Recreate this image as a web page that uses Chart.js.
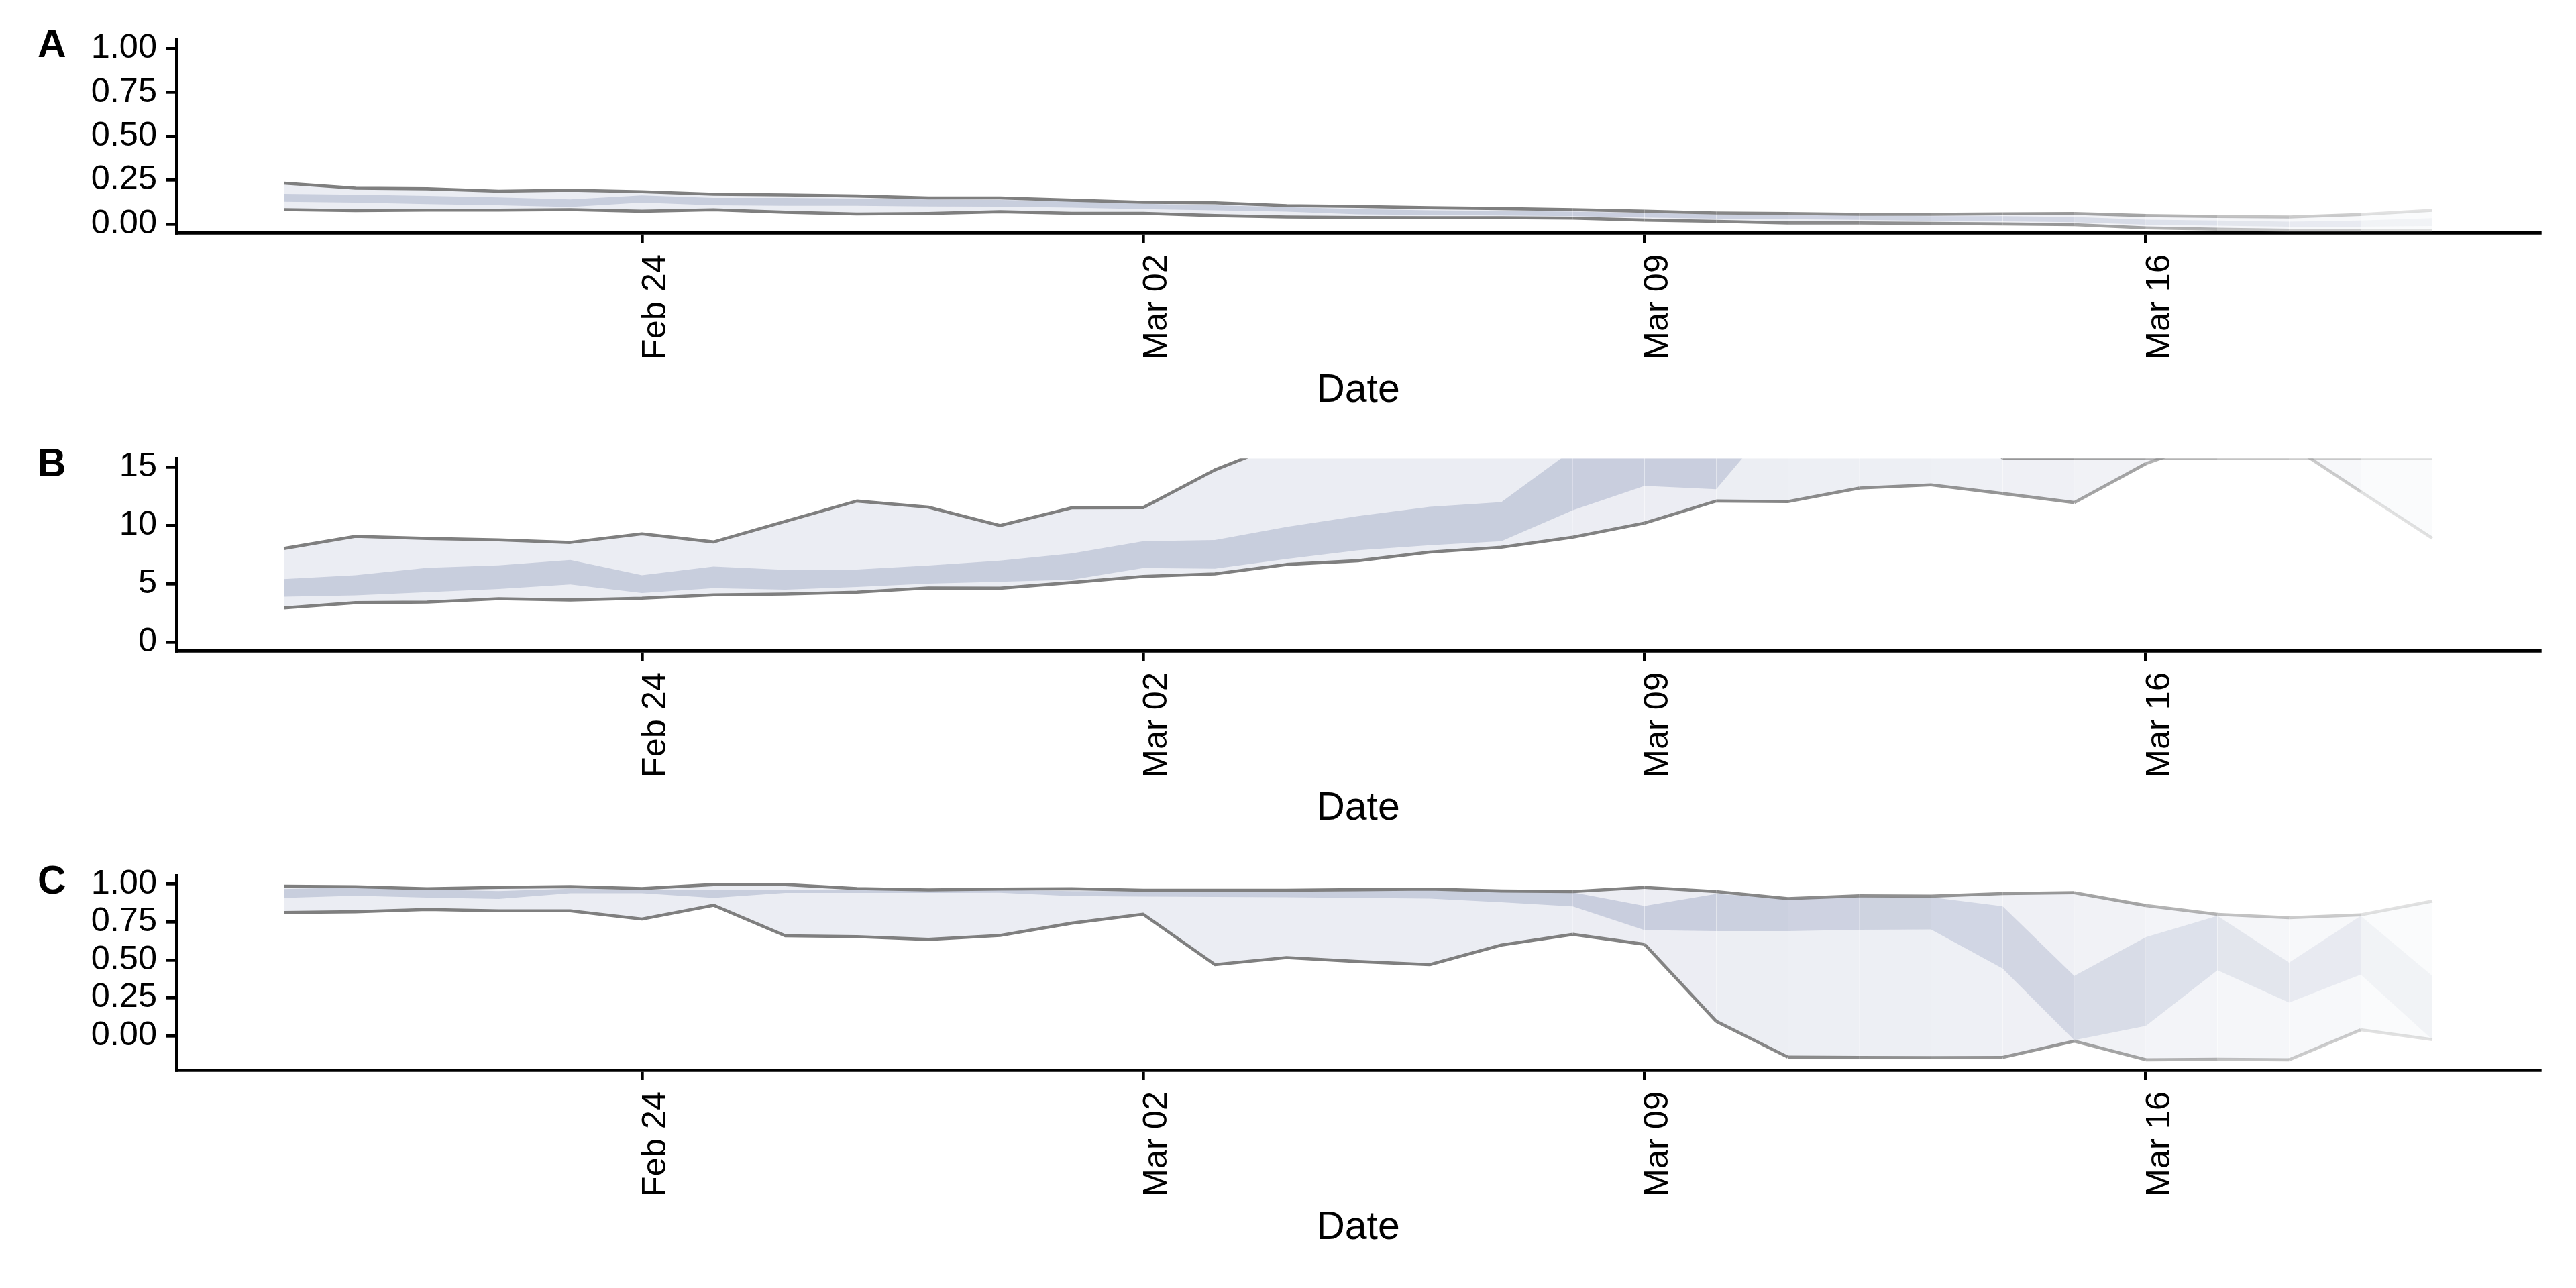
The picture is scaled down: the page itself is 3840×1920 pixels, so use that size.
<!DOCTYPE html>
<html>
<head>
<meta charset="utf-8">
<title>Estimates by date</title>
<script src="https://cdn.jsdelivr.net/npm/chart.js@4.4.1/dist/chart.umd.min.js"></script>
<style>
  html, body { margin: 0; padding: 0; background: #fff; }
  body { position: relative; width: 3840px; height: 1920px; overflow: hidden; font-family: "Liberation Sans", Arial, sans-serif; }
  .panel { position: absolute; left: 0; width: 3840px; }
  .panel canvas { display: block; }
  .tag { position: absolute; left: 56px; font-weight: bold; font-size: 59px; line-height: 59px; color: #000; }
</style>
</head>
<body>
<div class="panel" style="top:15px;height:603px"><canvas id="chartA" width="3840" height="603"></canvas></div>
<div class="panel" style="top:639px;height:602px"><canvas id="chartB" width="3840" height="602"></canvas></div>
<div class="panel" style="top:1261px;height:605px"><canvas id="chartC" width="3840" height="605"></canvas></div>
<div class="tag" style="top:36px">A</div>
<div class="tag" style="top:661px">B</div>
<div class="tag" style="top:1283px">C</div>
<script>
// Three stacked ribbon panels (A, B, C): 95% band with edge lines, 50% band inside
(function () {
    'use strict';

    // day index from Feb 19 (0) to Mar 20 (30)
    var days = [0, 1, 2, 3, 4, 5, 6, 7, 8, 9, 10, 11, 12, 13, 14, 15, 16, 17, 18, 19, 20, 21, 22, 23, 24, 25, 26, 27, 28, 29, 30];
    var tickDays = [5, 12, 19, 26];
    var tickLabels = ['Feb 24', 'Mar 02', 'Mar 09', 'Mar 16'];

    // opacity per day (recent days fade out)
    var fade = [1, 1, 1, 1, 1, 1, 1, 1, 1, 1, 1, 1, 1, 1, 1, 1, 1, 1, 0.98, 0.96, 0.94, 0.9, 0.87, 0.83, 0.8, 0.7, 0.59, 0.47, 0.4, 0.23, 0.2];

    // ── Panel A ──
    var aLower95 = [0.082, 0.076, 0.079, 0.079, 0.082, 0.073, 0.081, 0.067, 0.057, 0.060, 0.070, 0.061, 0.061, 0.048, 0.040, 0.037, 0.036, 0.036, 0.033, 0.022, 0.015, 0.006, 0.006, 0.003, 0.000, -0.004, -0.022, -0.030, -0.036, -0.036, -0.036];
    var aUpper95 = [0.233, 0.204, 0.201, 0.187, 0.193, 0.184, 0.170, 0.166, 0.160, 0.149, 0.149, 0.136, 0.124, 0.121, 0.105, 0.100, 0.093, 0.088, 0.082, 0.073, 0.063, 0.060, 0.055, 0.055, 0.058, 0.060, 0.048, 0.043, 0.040, 0.054, 0.078];
    var aLower50 = [0.127, 0.122, 0.113, 0.107, 0.097, 0.122, 0.107, 0.104, 0.104, 0.100, 0.099, 0.093, 0.085, 0.078, 0.070, 0.055, 0.051, 0.048, 0.045, 0.037, 0.030, 0.027, 0.024, 0.018, 0.015, 0.010, -0.004, -0.010, -0.016, -0.016, -0.012];
    var aUpper50 = [0.172, 0.167, 0.160, 0.152, 0.140, 0.163, 0.149, 0.149, 0.145, 0.140, 0.137, 0.130, 0.115, 0.107, 0.096, 0.085, 0.078, 0.074, 0.070, 0.063, 0.055, 0.051, 0.048, 0.045, 0.045, 0.040, 0.025, 0.020, 0.013, 0.020, 0.033];
    var aTicks = [0, 0.25, 0.5, 0.75, 1];

    // ── Panel B ──
    var bLower95 = [2.92, 3.37, 3.42, 3.71, 3.60, 3.75, 4.04, 4.11, 4.27, 4.63, 4.61, 5.10, 5.62, 5.84, 6.65, 6.97, 7.71, 8.13, 8.99, 10.20, 12.09, 12.04, 13.21, 13.48, 12.74, 11.96, 15.30, 17.5, 16.95, 12.9, 8.9];
    var bUpper95 = [8.02, 9.06, 8.88, 8.76, 8.54, 9.28, 8.58, 10.34, 12.09, 11.57, 9.98, 11.51, 11.53, 14.76, 17.2, 19, 21, 23, 25, 27, 28, 27, 25, 22, 15.78, 15.78, 15.78, 15.78, 15.78, 15.78, 15.78];
    var bLower50 = [3.89, 4.00, 4.27, 4.54, 4.94, 4.20, 4.61, 4.49, 4.72, 5.01, 5.17, 5.33, 6.34, 6.29, 7.12, 7.87, 8.30, 8.65, 11.3, 13.4, 13.1, 20.4, 21, 21, 20, 20, 21, 21, 21, 20, 19];
    var bUpper50 = [5.39, 5.73, 6.36, 6.58, 7.03, 5.73, 6.47, 6.18, 6.22, 6.56, 6.97, 7.60, 8.65, 8.74, 9.87, 10.8, 11.6, 12.0, 16.5, 19, 21, 23, 24, 25, 25, 24, 24, 25, 25, 24, 22];
    var bTicks = [0, 5, 10, 15];

    // ── Panel C ──
    var cLower95 = [0.812, 0.817, 0.832, 0.823, 0.823, 0.769, 0.860, 0.659, 0.653, 0.635, 0.661, 0.742, 0.801, 0.469, 0.515, 0.489, 0.469, 0.598, 0.668, 0.603, 0.096, -0.140, -0.142, -0.143, -0.142, -0.035, -0.158, -0.155, -0.158, 0.040, -0.025];
    var cUpper95 = [0.985, 0.982, 0.969, 0.978, 0.983, 0.970, 0.996, 0.996, 0.970, 0.961, 0.967, 0.969, 0.959, 0.959, 0.959, 0.963, 0.967, 0.954, 0.950, 0.978, 0.950, 0.904, 0.922, 0.920, 0.937, 0.943, 0.858, 0.800, 0.778, 0.797, 0.887];
    var cLower50 = [0.908, 0.923, 0.911, 0.902, 0.939, 0.939, 0.908, 0.941, 0.941, 0.941, 0.943, 0.921, 0.917, 0.915, 0.913, 0.908, 0.904, 0.880, 0.852, 0.696, 0.690, 0.690, 0.698, 0.701, 0.443, -0.028, 0.066, 0.432, 0.219, 0.404, -0.025];
    var cUpper50 = [0.967, 0.978, 0.963, 0.954, 0.969, 0.963, 0.959, 0.963, 0.963, 0.959, 0.961, 0.954, 0.954, 0.952, 0.952, 0.955, 0.960, 0.950, 0.945, 0.855, 0.935, 0.904, 0.915, 0.913, 0.853, 0.395, 0.650, 0.790, 0.482, 0.790, 0.395];
    var cTicks = [0, 0.25, 0.5, 0.75, 1];

    var FONT = 'Liberation Sans';
    var Y_AXIS_WIDTH = 263;
    var X_AXIS_HEIGHT = 271;

    Chart.defaults.font.family = FONT;
    Chart.defaults.color = '#000';

    function points(arr) {
        return arr.map(function (v, i) { return { x: days[i], y: v }; });
    }
    function lineColor(c) { return 'rgba(127,127,127,' + fade[c.p0DataIndex] + ')'; }
    function outerFill(c) { return 'rgba(100,115,160,' + (0.13 * fade[c.p0DataIndex]).toFixed(4) + ')'; }
    function innerFill(c) { return 'rgba(100,115,160,' + (0.26 * fade[c.p0DataIndex]).toFixed(4) + ')'; }

    function makePanel(canvasId, lo95, hi95, lo50, hi50, yMin, yMax, yTicks, decimals) {
        var canvas = document.getElementById(canvasId);
        new Chart(canvas.getContext('2d'), {
            type: 'line',
            data: {
                datasets: [
                    { data: points(hi50), fill: '+1', borderWidth: 0, borderColor: 'rgba(0,0,0,0)',
                      backgroundColor: 'rgba(100,115,160,0.26)', clip: 0,
                      segment: { backgroundColor: innerFill } },
                    { data: points(lo50), fill: false, borderWidth: 0, borderColor: 'rgba(0,0,0,0)', clip: 0 },
                    { data: points(hi95), fill: '+1', borderWidth: 4.6, borderColor: 'rgb(127,127,127)',
                      backgroundColor: 'rgba(100,115,160,0.13)', clip: 0,
                      segment: { borderColor: lineColor, backgroundColor: outerFill } },
                    { data: points(lo95), fill: false, borderWidth: 4.6, borderColor: 'rgb(127,127,127)', clip: 0,
                      segment: { borderColor: lineColor } }
                ]
            },
            options: {
                responsive: false,
                devicePixelRatio: 1,
                animation: false,
                events: [],
                layout: { padding: { top: 40, right: 54, bottom: 0, left: 0 } },
                elements: {
                    point: { radius: 0 },
                    line: { tension: 0, borderJoinStyle: 'round', borderCapStyle: 'butt' }
                },
                plugins: {
                    legend: { display: false },
                    tooltip: { enabled: false },
                    filler: { drawTime: 'beforeDatasetsDraw' }
                },
                scales: {
                    x: {
                        type: 'linear',
                        min: -1.5,
                        max: 31.5,
                        afterBuildTicks: function (axis) {
                            axis.ticks = tickDays.map(function (d) { return { value: d }; });
                        },
                        afterFit: function (axis) { axis.height = X_AXIS_HEIGHT; },
                        ticks: {
                            autoSkip: false,
                            minRotation: 90,
                            maxRotation: 90,
                            padding: 17,
                            labelOffset: 21,
                            color: '#000',
                            font: { size: 50.5 },
                            callback: function (v) { return tickLabels[tickDays.indexOf(v)]; }
                        },
                        grid: { drawOnChartArea: false, drawTicks: true, tickLength: 15, color: '#000', lineWidth: 4.7 },
                        border: { display: true, color: '#000', width: 4.7 },
                        title: { display: true, text: 'Date', color: '#000', font: { size: 59 }, padding: { top: 0, bottom: 0 } }
                    },
                    y: {
                        min: yMin,
                        max: yMax,
                        afterBuildTicks: function (axis) {
                            axis.ticks = yTicks.map(function (v) { return { value: v }; });
                        },
                        afterFit: function (axis) { axis.width = Y_AXIS_WIDTH; },
                        ticks: {
                            padding: 14,
                            color: '#000',
                            font: { size: 50.5 },
                            callback: function (v) { return Number(v).toFixed(decimals); }
                        },
                        grid: { drawOnChartArea: false, drawTicks: true, tickLength: 15, color: '#000', lineWidth: 4.7 },
                        border: { display: true, color: '#000', width: 4.7 }
                    }
                }
            }
        });
    }

    makePanel('chartA', aLower95, aUpper95, aLower50, aUpper50, -0.05, 1.05, aTicks, 2);
    makePanel('chartB', bLower95, bUpper95, bLower50, bUpper50, -0.75, 15.75, bTicks, 0);
    makePanel('chartC', cLower95, cUpper95, cLower50, cUpper50, -0.225, 1.055, cTicks, 2);
})();
</script>
</body>
</html>
